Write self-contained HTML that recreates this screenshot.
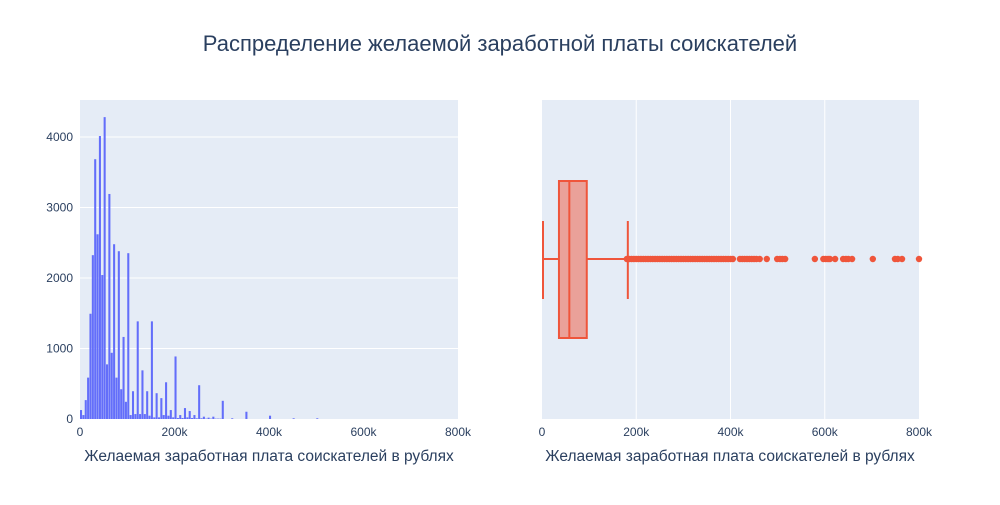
<!DOCTYPE html>
<html><head><meta charset="utf-8">
<style>
body{margin:0;background:#fff;}
svg text{font-family:"Liberation Sans","DejaVu Sans",sans-serif;}
</style></head>
<body>
<svg id="chart" width="1000" height="500" xmlns="http://www.w3.org/2000/svg">
<rect width="1000" height="500" fill="#fff"/>
<text x="500" y="51" text-anchor="middle" font-size="22" fill="#2a3f5f">Распределение желаемой заработной платы соискателей</text>
<rect x="80" y="100" width="378" height="319" fill="#e5ecf6"/>
<rect x="542" y="100" width="377" height="319" fill="#e5ecf6"/>
<g id="hist"></g>
<g id="box"></g>
<text x="269" y="461" text-anchor="middle" font-size="15.5" fill="#2a3f5f">Желаемая заработная плата соискателей в рублях</text>
<text x="730" y="461" text-anchor="middle" font-size="15.5" fill="#2a3f5f">Желаемая заработная плата соискателей в рублях</text>
</svg>
<script>
const binWidth = 5000;
const histCounts = [127,56,268,587,1493,2324,3685,2620,4014,2042,4282,775,3192,939,2479,587,2380,422,1164,244,2352,56,394,70,1385,70,690,70,394,47,1385,23,366,23,296,56,521,47,127,23,887,14,56,14,155,23,113,14,56,10,479,10,33,5,19,5,33,5,5,5,258,0,0,0,10,0,0,0,0,0,103,0,0,0,0,0,0,0,0,0,47,0,0,0,0,0,0,0,0,0,10,0,0,0,0,0,0,0,0,0,10];
const xTicks = [0,200000,400000,600000,800000];
const xTickLabels = ["0","200k","400k","600k","800k"];
const yTicks = [0,1000,2000,3000,4000];
const yTickLabels = ["0","1000","2000","3000","4000"];
const boxStats = {lower:0, q1:36000, median:58000, q3:95000, upper:180000};
const outliers = [180000,185000,190000,195000,200000,205000,210000,215000,220000,225000,230000,235000,240000,245000,250000,255000,260000,265000,270000,275000,280000,285000,290000,295000,300000,305000,310000,315000,320000,325000,330000,335000,340000,345000,350000,355000,360000,365000,370000,375000,380000,385000,390000,395000,400000,405000,420000,425000,430000,435000,440000,445000,450000,455000,462000,477000,499000,505000,510000,516000,579000,597000,602000,607000,611000,622000,639000,645000,650000,658000,702000,749000,755000,764000,800000];

const NS="http://www.w3.org/2000/svg";
function mk(tag,attrs,parent){const e=document.createElementNS(NS,tag);for(const k in attrs)e.setAttribute(k,attrs[k]);parent.appendChild(e);return e;}
const hx=v=>80+v/800000*378;
const hy=v=>419-v/4000*282;
const bx=v=>542+v/800000*377;
const hist=document.getElementById('hist');
const box=document.getElementById('box');

yTicks.forEach((t,i)=>{
  if(i>0){const g=mk('line',{x1:80,x2:458,y1:hy(t),y2:hy(t),stroke:'#fff','stroke-width':1},hist);
  
  }
  const l=mk('text',{x:73,y:hy(t)+4,'text-anchor':'end','font-size':12,fill:'#2a3f5f'},hist);
  l.textContent=yTickLabels[i];
  
  
});
histCounts.forEach((c,i)=>{
  if(c<=0)return;
  const x0=hx(i*binWidth),x1=hx((i+1)*binWidth);
  const r=mk('rect',{x:x0,y:hy(c),width:Math.max(x1-x0-0.3,0.5),height:419-hy(c),fill:'#636efa'},hist);
  
  
});
xTicks.forEach((t,i)=>{
  const l=mk('text',{x:hx(t),y:436,'text-anchor':'middle','font-size':12,fill:'#2a3f5f'},hist);
  l.textContent=xTickLabels[i];
  
  
  if(i>0&&i<4){const g=mk('line',{x1:bx(t),x2:bx(t),y1:100,y2:419,stroke:'#fff','stroke-width':1},box);
  
  }
  const l2=mk('text',{x:bx(t),y:436,'text-anchor':'middle','font-size':12,fill:'#2a3f5f'},box);
  l2.textContent=xTickLabels[i];
  
  
});
const cy=259, col='#ef553b';
const w1=mk('line',{x1:bx(boxStats.lower),x2:bx(boxStats.q1),y1:cy,y2:cy,stroke:col,'stroke-width':2},box);


const w2=mk('line',{x1:bx(boxStats.q3),x2:bx(boxStats.upper),y1:cy,y2:cy,stroke:col,'stroke-width':2},box);


[boxStats.lower,boxStats.upper].forEach(v=>{
  const c=mk('line',{x1:bx(v)+1,x2:bx(v)+1,y1:221,y2:299,stroke:col,'stroke-width':2},box);
  
  
});
const b=mk('rect',{x:bx(boxStats.q1),y:181,width:bx(boxStats.q3)-bx(boxStats.q1),height:157,fill:'rgba(239,85,59,0.5)',stroke:col,'stroke-width':2},box);


const m=mk('line',{x1:bx(boxStats.median),x2:bx(boxStats.median),y1:181,y2:338,stroke:col,'stroke-width':2},box);


outliers.forEach(v=>{
  const p=mk('circle',{cx:bx(v),cy:cy,r:3.2,fill:col},box);
  
  
});
</script>
</body></html>
